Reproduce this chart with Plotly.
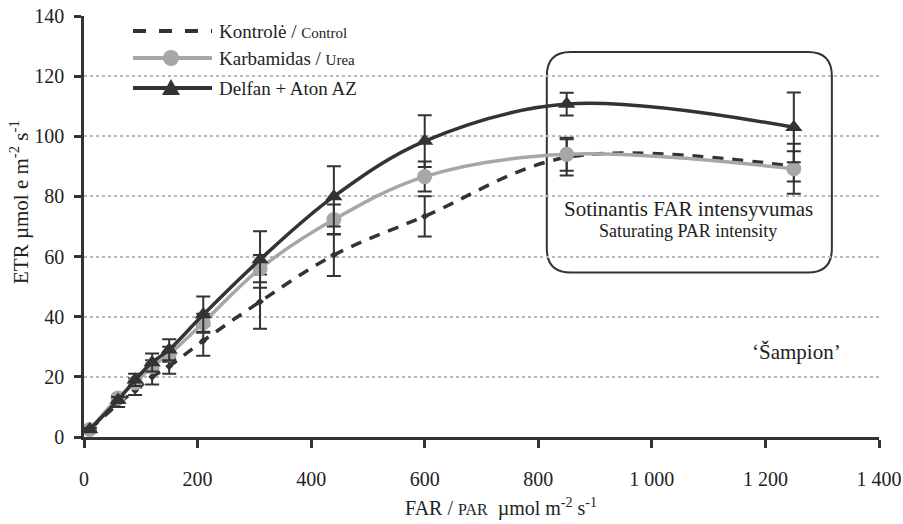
import plotly.graph_objects as go

# ---- data ----
far = [10, 60, 90, 120, 150, 210, 310, 440, 600, 850, 1250]

control = [2.5, 11, 15.5, 20, 23.5, 32, 45, 60.5, 73.4, 93, 90]
control_err = [0.5, 1, 1.5, 2.5, 2.5, 5, 9, 7, 6.7, 6, 5]

urea = [2.5, 13, 18, 23.5, 27.5, 38, 56, 72.3, 86.6, 94, 89.2]
urea_err = [0.5, 1, 1.5, 2, 2.5, 3, 4.5, 5, 5, 5.5, 8.3]

delfan = [2.5, 12.3, 19, 24.8, 29, 40.7, 59, 80, 98.4, 110.7, 103]
delfan_err = [0.5, 1, 2, 3, 3.5, 6, 9.4, 10, 8.6, 3.8, 11.6]

x_ticks = [0, 200, 400, 600, 800, 1000, 1200, 1400]
x_ticktext = ["0", "200", "400", "600", "800", "1 000", "1 200", "1 400"]
y_ticks = [0, 20, 40, 60, 80, 100, 120, 140]

DARK = "#333333"
GRAY = "#a7a7a9"
FONT = "Liberation Serif, Times New Roman, serif"

fig = go.Figure()

def err(vals):
    return dict(type="data", array=vals, visible=True, color=DARK, thickness=2, width=7)

fig.add_trace(go.Scatter(
    x=far, y=control, mode="lines+markers", name="Kontrolė / Control",
    line=dict(color=DARK, width=3.5, dash="11px,9px", shape="spline", smoothing=1),
    marker=dict(symbol="diamond", size=6, color=DARK),
    error_y=err(control_err), showlegend=False))
fig.add_trace(go.Scatter(
    x=far, y=urea, mode="lines+markers", name="Karbamidas / Urea",
    line=dict(color=GRAY, width=3.5, shape="spline", smoothing=1),
    marker=dict(symbol="circle", size=15, color=GRAY),
    error_y=err(urea_err), showlegend=False))
fig.add_trace(go.Scatter(
    x=far, y=delfan, mode="lines+markers", name="Delfan + Aton AZ",
    line=dict(color=DARK, width=3.5, shape="spline", smoothing=1),
    marker=dict(symbol="triangle-up", size=15, color=DARK),
    error_y=err(delfan_err), showlegend=False))

# ---- manual legend (paper coords, pixel-sized symbols) ----
PL, PR, PT, PB = 84.0, 879.0, 16.0, 437.0
def px(xp):
    return (xp - PL) / (PR - PL)
def py(yp):
    return (PB - yp) / (PB - PT)

shapes = []
annotations = []
legend_rows = [
    (31, "dash", "Kontrolė / ", "Control", None),
    (58, "gray", "Karbamidas / ", "Urea", "circle"),
    (88, "dark", "Delfan + Aton AZ", "", "triangle"),
]
for ypix, style, t1, t2, sym in legend_rows:
    if style == "dash":
        ln = dict(color=DARK, width=4, dash="13px,13px")
    elif style == "gray":
        ln = dict(color=GRAY, width=4)
    else:
        ln = dict(color=DARK, width=4)
    shapes.append(dict(type="line", xref="paper", yref="paper",
                       x0=px(133), x1=px(212), y0=py(ypix), y1=py(ypix), line=ln))
    if sym == "circle":
        shapes.append(dict(type="circle", xref="paper", yref="paper",
                           xsizemode="pixel", ysizemode="pixel",
                           xanchor=px(171), yanchor=py(ypix),
                           x0=-8, x1=8, y0=-8, y1=8,
                           fillcolor=GRAY, line=dict(width=0)))
    if sym == "triangle":
        shapes.append(dict(type="path", xref="paper", yref="paper",
                           xsizemode="pixel", ysizemode="pixel",
                           xanchor=px(171), yanchor=py(ypix),
                           path="M -9 -7 L 9 -7 L 0 9 Z",
                           fillcolor=DARK, line=dict(width=0)))
    txt = t1 + (f"<span style='font-size:15px'>{t2}</span>" if t2 else "")
    annotations.append(dict(xref="paper", yref="paper", x=px(217), y=py(ypix),
                            xanchor="left", yanchor="middle", showarrow=False,
                            text=txt, font=dict(family=FONT, size=19, color="#222")))

# ---- rounded box around saturating points ----
bx0, bx1, by0, by1 = 815, 1317, 54.7, 128
rx, ry = 42, 8
box_path = (f"M {bx0+rx} {by1} L {bx1-rx} {by1} Q {bx1} {by1} {bx1} {by1-ry} "
            f"L {bx1} {by0+ry} Q {bx1} {by0} {bx1-rx} {by0} L {bx0+rx} {by0} "
            f"Q {bx0} {by0} {bx0} {by0+ry} L {bx0} {by1-ry} Q {bx0} {by1} {bx0+rx} {by1} Z")
shapes.append(dict(type="path", xref="x", yref="y", path=box_path,
                   line=dict(color=DARK, width=2), layer="below"))

def note(xp, yp, text, size, angle=0):
    return dict(xref="paper", yref="paper", x=px(xp), y=py(yp), showarrow=False,
                xanchor="center", yanchor="middle", textangle=angle,
                text=text, font=dict(family=FONT, size=size, color="#222"))

annotations += [
    note(688, 209, "Sotinantis FAR intensyvumas", 21),
    note(688, 231, "Saturating PAR intensity", 18),
    note(796, 352, "‘Šampion’", 21),
    note(501, 508, "FAR / <span style='font-size:16px'>PAR</span>  µmol m<sup>-2</sup> s<sup>-1</sup>", 20),
    note(19, 202, "ETR µmol e m<sup>-2</sup> s<sup>-1</sup>", 21, -90),
]

fig.update_layout(
    width=903, height=524,
    margin=dict(l=84, r=24, t=16, b=87),
    paper_bgcolor="white", plot_bgcolor="white",
    font=dict(family=FONT, size=20, color="#222"),
    shapes=shapes, annotations=annotations,
    showlegend=False,
)
fig.update_xaxes(range=[0, 1400], tickvals=x_ticks, ticktext=x_ticktext, automargin=False,
                 showgrid=False, zeroline=False, showline=True, linecolor=DARK, linewidth=2.5,
                 ticks="outside", ticklen=8, tickwidth=2.5, tickcolor=DARK,
                 ticklabelstandoff=14, tickfont=dict(family=FONT, size=20))
fig.update_yaxes(range=[0, 140], tickvals=y_ticks, automargin=False,
                 showgrid=True, gridcolor="#b8b8b8", griddash="dot", gridwidth=1.5,
                 zeroline=False, showline=True, linecolor=DARK, linewidth=2.5,
                 ticks="outside", ticklen=7, tickwidth=2.5, tickcolor=DARK,
                 ticklabelstandoff=6, tickfont=dict(family=FONT, size=20))

fig.write_html("out.html", config={"displayModeBar": False},
               post_script="document.body.style.margin='0';document.body.style.overflow='hidden';")
